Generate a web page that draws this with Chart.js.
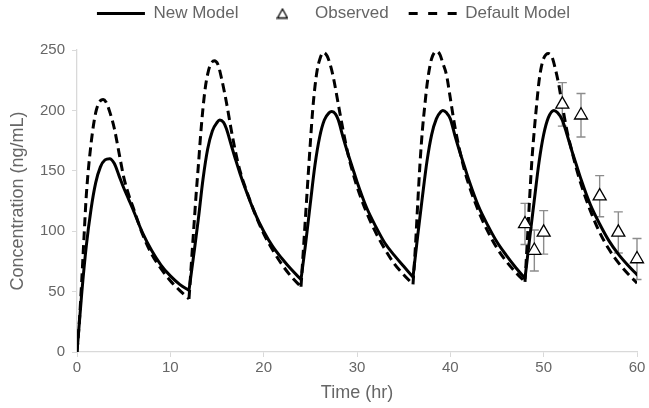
<!DOCTYPE html>
<html>
<head>
<meta charset="utf-8">
<script src="https://cdn.jsdelivr.net/npm/chart.js@4.4.0/dist/chart.umd.min.js"></script>
<style>
  html, body { margin: 0; padding: 0; background: #fff; }
</style>
</head>
<body>
<canvas id="concChart" width="649" height="408"></canvas>
<script>
// dose given every 12 h; concentrations in ng/mL
const doseTimes = [12, 24, 36, 48];

const newModelTime = [
  0, 0.5, 1, 1.5, 2, 2.5, 3, 3.5, 4, 4.5, 5, 5.5, 6, 7, 8, 9, 10, 11, 12,
  12.5, 13, 13.5, 14, 14.5, 15, 15.3, 15.7, 16, 16.5, 17, 17.5, 18, 19, 20, 21, 22, 23, 24,
  24.5, 25, 25.5, 26, 26.5, 27, 27.3, 27.7, 28, 28.5, 29, 29.5, 30, 31, 32, 33, 34, 35, 36,
  36.5, 37, 37.5, 38, 38.5, 39, 39.2, 39.6, 40, 40.5, 41, 41.5, 42, 43, 44, 45, 46, 47, 48,
  48.5, 49, 49.5, 50, 50.5, 51.1, 51.5, 52, 52.5, 53, 53.5, 54, 55, 56, 57, 58, 59, 60
];
const newModelConc = [
  0, 48, 88, 118, 140, 153, 159, 160, 156, 146, 136, 127, 118, 99, 84, 72, 63, 56, 51,
  80, 110, 143, 168, 183, 190, 192, 190, 185, 172, 159, 147, 136, 116, 100, 87, 77, 68, 60,
  90, 123, 155, 178, 192, 198, 199, 197, 192, 178, 165, 153, 141, 120, 104, 90, 80, 71, 62,
  96, 128, 158, 180, 193, 199, 200, 198, 193, 179, 166, 154, 142, 121, 105, 91, 80, 70, 61,
  94, 126, 157, 180, 194, 200, 198, 192, 180, 167, 155, 143, 122, 106, 92, 81, 72, 64
];

const defaultModelTime = [
  0, 0.25, 0.5, 0.75, 1, 1.5, 2, 2.5, 2.8, 3.1, 3.5, 4, 4.5, 5, 5.5, 6, 7, 8, 9, 10, 11, 12,
  12.25, 12.5, 12.75, 13, 13.25, 13.5, 13.75, 14, 14.25, 14.7, 15.1, 15.5, 16, 16.5, 17, 17.5, 18, 19, 20, 21, 22, 23, 24,
  24.25, 24.5, 24.75, 25, 25.25, 25.5, 25.75, 26, 26.4, 26.8, 27.2, 27.5, 28, 28.5, 29, 29.5, 30, 31, 32, 33, 34, 35, 36,
  36.25, 36.5, 36.75, 37, 37.25, 37.5, 37.75, 38, 38.5, 38.9, 39.2, 39.6, 40, 40.5, 41, 41.5, 42, 43, 44, 45, 46, 47, 48,
  48.25, 48.5, 48.75, 49, 49.25, 49.5, 49.75, 50, 50.5, 50.9, 51.2, 51.6, 52, 52.5, 53, 53.5, 54, 55, 56, 57, 58, 59, 60
];
const defaultModelConc = [
  0, 25, 58, 95, 130, 172, 198, 208, 209, 207, 199, 185, 165, 145, 131, 120, 98, 81, 69, 59, 51, 44,
  73, 101, 129, 154, 180, 202, 219, 230, 237, 241, 238, 226, 207, 185, 165, 149, 137, 116, 98, 84, 72, 62, 54,
  84, 114, 144, 173, 200, 220, 234, 242, 248, 245, 236, 226, 205, 184, 165, 150, 137, 116, 99, 85, 73, 64, 56,
  86, 122, 156, 183, 203, 221, 234, 243, 249, 246, 239, 229, 210, 186, 167, 151, 138, 117, 100, 86, 75, 66, 58,
  92, 128, 160, 184, 205, 224, 236, 243, 247, 244, 236, 222, 204, 183, 167, 152, 139, 117, 99, 85, 74, 65, 57
];

const observedTime = [48, 49, 50, 52, 54, 56, 58, 60];
const observedConc = [106, 84, 99, 205, 196, 129, 99, 77];
const observedSD = [17, 17, 18, 18, 18, 17, 17, 17];

const textGray = '#666666';
const axisGray = '#d9d9d9';
const fontFamily = "'Liberation Sans', Arial, sans-serif";

// split the curve at every dose so the trough keeps its sharp corner
function toPoints(times, values) {
  const pts = [];
  times.forEach((t, i) => {
    pts.push({x: t, y: values[i]});
    if (doseTimes.includes(t)) {
      pts.push({x: t, y: null});
      pts.push({x: t, y: values[i]});
    }
  });
  return pts;
}

// small open triangle for the "Observed" legend entry
const legendTriangle = document.createElement('canvas');
legendTriangle.width = 12;
legendTriangle.height = 12;
(function () {
  const g = legendTriangle.getContext('2d');
  g.lineWidth = 1.3;
  g.strokeStyle = '#000';
  g.fillStyle = '#fff';
  g.beginPath();
  g.moveTo(6, 1.5);
  g.lineTo(11, 10.5);
  g.lineTo(1, 10.5);
  g.closePath();
  g.fill();
  g.stroke();
})();

// +/- SD whiskers for the observed points
const errorBars = {
  id: 'errorBars',
  beforeDatasetsDraw(chart) {
    const {ctx, scales: {x, y}} = chart;
    ctx.save();
    ctx.strokeStyle = '#8c8c8c';
    ctx.lineWidth = 1.4;
    observedTime.forEach((t, i) => {
      const px = x.getPixelForValue(t);
      const top = y.getPixelForValue(observedConc[i] + observedSD[i]);
      const bot = y.getPixelForValue(observedConc[i] - observedSD[i]);
      ctx.beginPath();
      ctx.moveTo(px, top);
      ctx.lineTo(px, bot);
      ctx.moveTo(px - 4.5, top);
      ctx.lineTo(px + 4.5, top);
      ctx.moveTo(px - 4.5, bot);
      ctx.lineTo(px + 4.5, bot);
      ctx.stroke();
    });
    ctx.restore();
  }
};

// extra room between the legend row and the plot, row nudged right
const legendGap = {
  id: 'legendGap',
  beforeInit(chart) {
    const fit = chart.legend.fit;
    chart.legend.fit = function () {
      fit.call(this);
      this.height += 18;
    };
  },
  afterLayout(chart) {
    chart.legend.left += 15;
    chart.legend.right += 15;
  }
};

new Chart(document.getElementById('concChart').getContext('2d'), {
  type: 'line',
  data: {
    datasets: [
      {
        label: 'New Model',
        data: toPoints(newModelTime, newModelConc),
        borderColor: '#000',
        backgroundColor: '#000',
        borderWidth: 3,
        borderCapStyle: 'round',
        borderJoinStyle: 'round',
        pointRadius: 0,
        pointStyle: 'line',
        cubicInterpolationMode: 'monotone',
        fill: false,
        order: 1
      },
      {
        type: 'scatter',
        label: 'Observed',
        data: observedTime.map((t, i) => ({x: t, y: observedConc[i]})),
        pointStyle: 'triangle',
        pointRadius: 7.5,
        pointBorderWidth: 1.3,
        pointBorderColor: '#000',
        pointBackgroundColor: '#fff',
        borderColor: '#000',
        backgroundColor: '#fff',
        clip: false,
        order: 0
      },
      {
        label: 'Default Model',
        data: toPoints(defaultModelTime, defaultModelConc),
        borderColor: '#000',
        backgroundColor: '#000',
        borderWidth: 3,
        borderDash: [9, 5],
        borderJoinStyle: 'round',
        pointRadius: 0,
        pointStyle: 'line',
        cubicInterpolationMode: 'monotone',
        fill: false,
        order: 2
      }
    ]
  },
  options: {
    responsive: false,
    animation: false,
    events: [],
    layout: {
      padding: {top: -15, right: 12, bottom: 0, left: 0}
    },
    plugins: {
      tooltip: {enabled: false},
      legend: {
        position: 'top',
        labels: {
          usePointStyle: true,
          pointStyleWidth: 48,
          padding: 20,
          color: textGray,
          font: {size: 17, family: fontFamily},
          sort: (a, b) => a.datasetIndex - b.datasetIndex,
          generateLabels(chart) {
            const items = Chart.defaults.plugins.legend.labels.generateLabels(chart);
            items.forEach((item) => {
              if (item.datasetIndex === 1) item.pointStyle = legendTriangle;
              if (item.datasetIndex === 2) item.lineDash = [9, 10.5];
            });
            return items;
          }
        }
      }
    },
    scales: {
      x: {
        type: 'linear',
        min: 0,
        max: 60,
        afterFit(scale) { scale.height = 56; },
        ticks: {
          stepSize: 10,
          padding: 2,
          color: textGray,
          font: {size: 15, family: fontFamily}
        },
        grid: {drawOnChartArea: false, drawTicks: true, tickLength: 5, color: axisGray},
        border: {color: axisGray, width: 1.3},
        title: {
          display: true,
          text: 'Time (hr)',
          color: textGray,
          font: {size: 18, family: fontFamily},
          padding: {top: 0, bottom: 4}
        }
      },
      y: {
        type: 'linear',
        min: 0,
        max: 250,
        afterFit(scale) { scale.width = 77; },
        ticks: {
          stepSize: 50,
          padding: 7,
          color: textGray,
          font: {size: 15, family: fontFamily}
        },
        grid: {drawOnChartArea: false, drawTicks: true, tickLength: 5, color: axisGray},
        border: {color: axisGray, width: 1.3},
        title: {
          display: true,
          text: 'Concentration (ng/mL)',
          color: textGray,
          font: {size: 18, family: fontFamily},
          padding: {top: 7, bottom: 0}
        }
      }
    }
  },
  plugins: [errorBars, legendGap]
});
</script>
</body>
</html>
